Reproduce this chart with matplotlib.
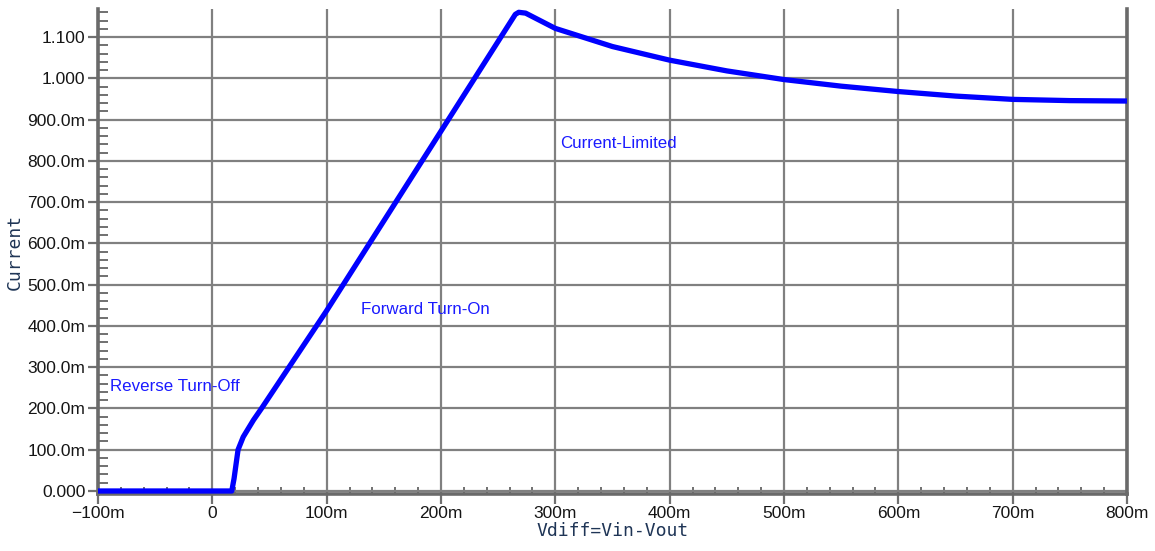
import matplotlib
matplotlib.use("Agg")
import matplotlib.pyplot as plt
from matplotlib.ticker import MultipleLocator, FixedLocator

# Vdiff (mV) vs current (A)
vdiff_mv = [-100, 17, 19, 21, 22.5, 27, 36, 43, 100, 200, 265, 268, 274,
            300, 350, 400, 450, 500, 550, 600, 650, 700, 750, 800]
current = [0.0, 0.0, 0.03, 0.07, 0.1, 0.131, 0.172, 0.2, 0.437, 0.872, 1.155, 1.16, 1.158,
           1.121, 1.077, 1.044, 1.018, 0.997, 0.981, 0.968, 0.957, 0.949, 0.946, 0.945]

x_ticks = [-100, 0, 100, 200, 300, 400, 500, 600, 700, 800]
x_ticklabels = ["\u2212100m", "0", "100m", "200m", "300m", "400m", "500m", "600m", "700m", "800m"]
y_ticks = [0.0, 0.1, 0.2, 0.3, 0.4, 0.5, 0.6, 0.7, 0.8, 0.9, 1.0, 1.1]
y_ticklabels = ["0.000", "100.0m", "200.0m", "300.0m", "400.0m", "500.0m", "600.0m",
                "700.0m", "800.0m", "900.0m", "1.000", "1.100"]

notes = [("Reverse Turn-Off", -89.5, 0.254),
         ("Forward Turn-On", 130, 0.439),
         ("Current-Limited", 304, 0.843)]

plt.rcParams["font.family"] = ["Liberation Sans", "DejaVu Sans"]

fig = plt.figure(figsize=(11.55, 5.51), dpi=100)
ax = fig.add_axes([98 / 1155, 1 - 494 / 551, (1127 - 98) / 1155, (494 - 9) / 551])

ax.plot(vdiff_mv, current, color="#0000ff", lw=3.8, solid_capstyle="butt", zorder=3)

ax.set_xlim(-100, 800)
ax.set_ylim(-0.0073, 1.168)

ax.xaxis.set_major_locator(FixedLocator(x_ticks))
ax.set_xticklabels(x_ticklabels)
ax.yaxis.set_major_locator(FixedLocator(y_ticks))
ax.set_yticklabels(y_ticklabels)
ax.xaxis.set_minor_locator(MultipleLocator(20))
ax.yaxis.set_minor_locator(MultipleLocator(0.02))

ax.grid(True, which="major", color="#808080", lw=1.6, zorder=1)
ax.tick_params(which="major", direction="out", length=7, width=1.6, color="#707070",
               labelsize=12.5, labelcolor="#151515", pad=2)
ax.tick_params(which="minor", direction="in", length=7, width=1.4, color="#707070")
ax.tick_params(axis="x", which="minor", length=5)

for side in ["left", "bottom", "right"]:
    ax.spines[side].set_color("#6a6a6a")
    ax.spines[side].set_linewidth(2.6)
ax.spines["top"].set_visible(False)

for txt, x, y in notes:
    ax.text(x, y, txt, color="#1a1aff", fontsize=12.2, va="center", ha="left", zorder=4)

ax.set_xlabel("Vdiff=Vin-Vout", family="DejaVu Sans Mono", fontsize=13,
              color="#1f3556", labelpad=0)
ax.set_ylabel("Current", family="DejaVu Sans Mono", fontsize=13,
              color="#1f3556", labelpad=3)

fig.savefig("out.png", dpi=100)
